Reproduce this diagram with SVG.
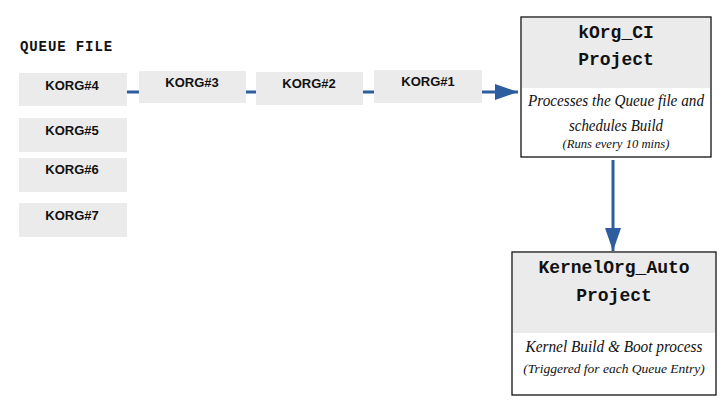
<svg xmlns="http://www.w3.org/2000/svg" width="723" height="400" viewBox="0 0 723 400">
<style>
.q{fill:#ebebeb}
.qt{font-family:"Liberation Sans",Arial,sans-serif;font-weight:bold;font-size:13px;fill:#111;text-anchor:middle}
.hd{font-family:"Liberation Mono","Courier New",monospace;font-weight:bold;font-size:18px;fill:#111;text-anchor:middle}
.it{font-family:"Liberation Serif","Times New Roman",serif;font-style:italic;font-size:16px;fill:#111;text-anchor:middle}
.sm{font-size:13px}
.md{font-size:13.5px}
.con{stroke:#2e5d9f;stroke-width:3;fill:none}
.box{fill:#fff;stroke:#111;stroke-width:1.3}
</style>
<defs>
<marker id="ah" markerUnits="userSpaceOnUse" markerWidth="24" markerHeight="16" refX="23" refY="8" orient="auto">
<path d="M0,0 L23,8 L0,16 Z" fill="#2e5d9f"/>
</marker>
</defs>
<rect width="723" height="400" fill="#fff"/>
<text x="20" y="51" font-family="'Liberation Mono','Courier New',monospace" font-weight="bold" font-size="14" letter-spacing="0.9" fill="#111">QUEUE FILE</text>
<g id="connectors">
<line class="con" x1="127" y1="92" x2="518" y2="92" marker-end="url(#ah)"/>
<line class="con" x1="613" y1="160" x2="613" y2="251" marker-end="url(#ah)"/>
</g>
<g id="korg4"><rect class="q" x="19" y="73" width="108" height="33"/><text class="qt" x="72" y="90">KORG#4</text></g>
<g id="korg3"><rect class="q" x="139" y="71" width="107" height="32"/><text class="qt" x="192" y="87">KORG#3</text></g>
<g id="korg2"><rect class="q" x="256" y="72" width="107" height="33"/><text class="qt" x="309" y="88">KORG#2</text></g>
<g id="korg1"><rect class="q" x="374" y="70" width="108" height="33"/><text class="qt" x="428" y="86">KORG#1</text></g>
<g id="korg5"><rect class="q" x="19" y="118" width="108" height="34"/><text class="qt" x="72" y="135">KORG#5</text></g>
<g id="korg6"><rect class="q" x="19" y="158" width="108" height="34"/><text class="qt" x="72" y="174">KORG#6</text></g>
<g id="korg7"><rect class="q" x="19" y="203" width="108" height="34"/><text class="qt" x="72" y="220">KORG#7</text></g>
<g id="korg-ci">
<rect class="box" x="521" y="17" width="190" height="140"/>
<rect class="q" x="522" y="18" width="188" height="70"/>
<text class="hd" x="616" y="38">kOrg_CI</text>
<text class="hd" x="616" y="65">Project</text>
<text class="it" x="616" y="106" textLength="176" lengthAdjust="spacingAndGlyphs">Processes the Queue file and</text>
<text class="it" x="616" y="131" textLength="94" lengthAdjust="spacingAndGlyphs">schedules Build</text>
<text class="it sm" x="616" y="148" textLength="107" lengthAdjust="spacingAndGlyphs">(Runs every 10 mins)</text>
</g>
<g id="kernelorg-auto">
<rect class="box" x="512" y="252" width="204" height="143"/>
<rect class="q" x="513" y="253" width="202" height="80"/>
<text class="hd" x="614" y="273">KernelOrg_Auto</text>
<text class="hd" x="614" y="301">Project</text>
<text class="it" x="614" y="352" textLength="177" lengthAdjust="spacingAndGlyphs">Kernel Build &amp; Boot process</text>
<text class="it md" x="614" y="373">(Triggered for each Queue Entry)</text>
</g>
</svg>
